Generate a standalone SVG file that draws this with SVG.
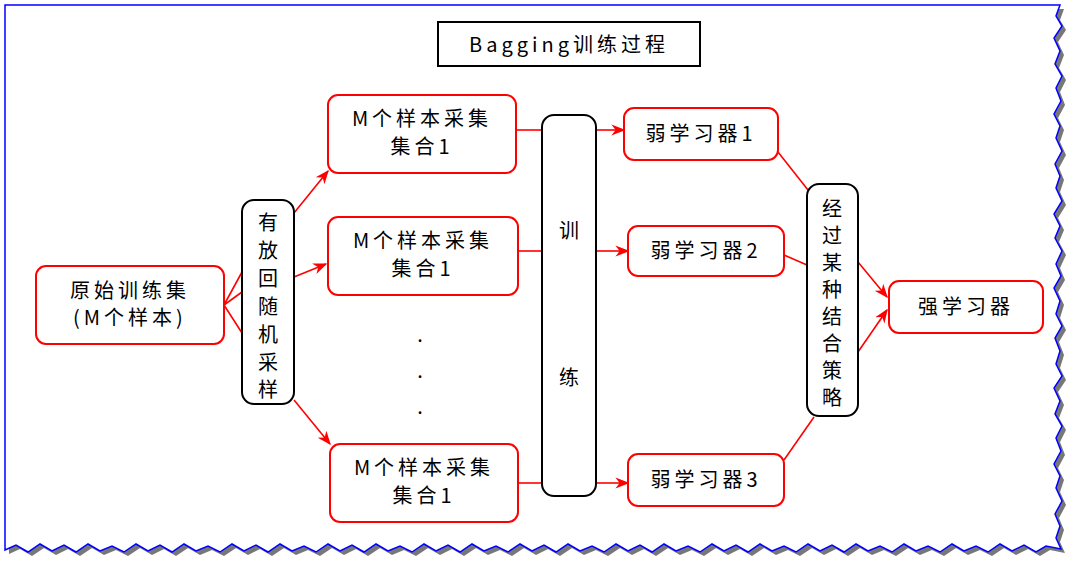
<svg xmlns="http://www.w3.org/2000/svg" width="1080" height="569" viewBox="0 0 1080 569">
<defs>
<marker id="a" viewBox="0 0 10 10" refX="9" refY="5" markerWidth="14" markerHeight="14" orient="auto" markerUnits="userSpaceOnUse"><path d="M0,1 L10,5 L0,9 L3,5 Z" fill="#f00"/></marker>
</defs>
<style>
.r{fill:#fff;stroke:#f00;stroke-width:2}
.k{fill:#fff;stroke:#000;stroke-width:2}
text{font-family:"Noto Sans CJK SC","Liberation Serif",sans-serif;font-size:20px;fill:#000;text-anchor:middle}
.s{letter-spacing:4px}
.c line{stroke:#f00;stroke-width:1.6}
</style>
<rect width="1080" height="569" fill="#fff"/>
<path d="M9,9 L1064,9 L1060,20 1066,30 1058,42 1064,55 1059,68 1066,80 1060,92 1065,105 1058,118 1064,130 1060,142 1066,155 1059,168 1064,180 1060,192 1066,205 1058,218 1064,230 1059,242 1066,255 1060,268 1065,280 1058,292 1064,305 1060,318 1066,330 1059,342 1064,355 1060,368 1066,380 1058,392 1064,405 1059,418 1066,430 1060,442 1065,455 1058,468 1064,480 1060,492 1066,505 1059,518 1064,530 1060,542 1065,553 L1050,550 1040,556 1028,549 1016,555 1004,548 992,556 980,550 968,555 956,548 944,556 932,550 920,555 908,548 896,556 884,550 872,555 860,548 848,556 836,549 824,555 812,548 800,556 788,550 776,555 764,548 752,556 740,549 728,555 716,548 704,556 692,550 680,555 668,548 656,556 644,549 632,555 620,548 608,556 596,550 584,555 572,548 560,556 548,549 536,555 524,548 512,556 500,550 488,555 476,548 464,556 452,549 440,555 428,548 416,556 404,550 392,555 380,548 368,556 356,549 344,555 332,548 320,556 308,550 296,555 284,548 272,556 260,549 248,555 236,548 224,556 212,550 200,555 188,548 176,556 164,549 152,555 140,548 128,556 116,550 104,555 92,548 80,556 68,549 56,555 44,548 32,556 20,549 9,554 Z" fill="#555" opacity="0.8"/>
<path d="M5,5 L1060,5 L1056,16 1062,26 1054,38 1060,51 1055,64 1062,76 1056,88 1061,101 1054,114 1060,126 1056,138 1062,151 1055,164 1060,176 1056,188 1062,201 1054,214 1060,226 1055,238 1062,251 1056,264 1061,276 1054,288 1060,301 1056,314 1062,326 1055,338 1060,351 1056,364 1062,376 1054,388 1060,401 1055,414 1062,426 1056,438 1061,451 1054,464 1060,476 1056,488 1062,501 1055,514 1060,526 1056,538 1061,549 L1046,546 1036,552 1024,545 1012,551 1000,544 988,552 976,546 964,551 952,544 940,552 928,546 916,551 904,544 892,552 880,546 868,551 856,544 844,552 832,545 820,551 808,544 796,552 784,546 772,551 760,544 748,552 736,545 724,551 712,544 700,552 688,546 676,551 664,544 652,552 640,545 628,551 616,544 604,552 592,546 580,551 568,544 556,552 544,545 532,551 520,544 508,552 496,546 484,551 472,544 460,552 448,545 436,551 424,544 412,552 400,546 388,551 376,544 364,552 352,545 340,551 328,544 316,552 304,546 292,551 280,544 268,552 256,545 244,551 232,544 220,552 208,546 196,551 184,544 172,552 160,545 148,551 136,544 124,552 112,546 100,551 88,544 76,552 64,545 52,551 40,544 28,552 16,545 5,550 Z" fill="#fff" stroke="#00f" stroke-width="1.5"/>
<g class="c">
<line x1="224" y1="305" x2="242" y2="272"/><line x1="224" y1="305" x2="242" y2="292"/><line x1="224" y1="305" x2="242" y2="333"/>
<line x1="294" y1="213" x2="328" y2="171" marker-end="url(#a)"/>
<line x1="294" y1="277" x2="326" y2="264" marker-end="url(#a)"/>
<line x1="294" y1="400" x2="330" y2="444" marker-end="url(#a)"/>
<line x1="516" y1="130" x2="542" y2="130"/><line x1="518" y1="251" x2="542" y2="251"/><line x1="518" y1="483" x2="542" y2="483"/>
<line x1="596" y1="130" x2="624" y2="130" marker-end="url(#a)"/>
<line x1="596" y1="251" x2="628" y2="251" marker-end="url(#a)"/>
<line x1="596" y1="483" x2="628" y2="483" marker-end="url(#a)"/>
<line x1="778" y1="152" x2="808" y2="190"/><line x1="784" y1="255" x2="807" y2="265"/><line x1="784" y1="460" x2="814" y2="417"/>
<line x1="858" y1="262" x2="887" y2="297" marker-end="url(#a)"/>
<line x1="858" y1="352" x2="887" y2="310" marker-end="url(#a)"/>
</g>
<g id="title"><rect x="438" y="22" width="262" height="44" fill="#fff" stroke="#000" stroke-width="2"/><text class="s" x="569" y="52" font-size="21">Bagging训练过程</text></g>
<g id="orig"><rect class="r" x="36" y="266" width="188" height="78" rx="10"/><text class="s" x="130" y="298">原始训练集</text><text class="s" x="130" y="325">(M个样本)</text></g>
<g id="sample"><rect class="k" x="242" y="200" width="52" height="204" rx="12"/><text x="268" y="230">有</text><text x="268" y="258">放</text><text x="268" y="286">回</text><text x="268" y="314">随</text><text x="268" y="342">机</text><text x="268" y="370">采</text><text x="268" y="397">样</text></g>
<g id="m1"><rect class="r" x="328" y="95" width="188" height="78" rx="10"/><text class="s" x="422" y="126">M个样本采集</text><text class="s" x="422" y="154">集合1</text></g>
<g id="m2"><rect class="r" x="328" y="217" width="190" height="78" rx="10"/><text class="s" x="423" y="248">M个样本采集</text><text class="s" x="423" y="276">集合1</text></g>
<g id="m3"><rect class="r" x="330" y="444" width="188" height="78" rx="10"/><text class="s" x="424" y="475">M个样本采集</text><text class="s" x="424" y="503">集合1</text></g>
<g id="dots"><text x="420" y="342">.</text><text x="420" y="378">.</text><text x="420" y="414">.</text></g>
<g id="train"><rect class="k" x="542" y="115" width="54" height="381" rx="12"/><text x="569" y="238">训</text><text x="569" y="385">练</text></g>
<g id="w1"><rect class="r" x="624" y="108" width="154" height="52" rx="10"/><text class="s" x="701" y="141">弱学习器1</text></g>
<g id="w2"><rect class="r" x="628" y="226" width="156" height="50" rx="10"/><text class="s" x="706" y="258">弱学习器2</text></g>
<g id="w3"><rect class="r" x="628" y="454" width="156" height="52" rx="10"/><text class="s" x="706" y="487">弱学习器3</text></g>
<g id="comb"><rect class="k" x="807" y="184" width="51" height="232" rx="12"/><text x="832" y="216">经</text><text x="832" y="243">过</text><text x="832" y="270">某</text><text x="832" y="297">种</text><text x="832" y="324">结</text><text x="832" y="351">合</text><text x="832" y="378">策</text><text x="832" y="405">略</text></g>
<g id="strong"><rect class="r" x="889" y="281" width="154" height="52" rx="10"/><text class="s" x="966" y="314">强学习器</text></g>
</svg>
